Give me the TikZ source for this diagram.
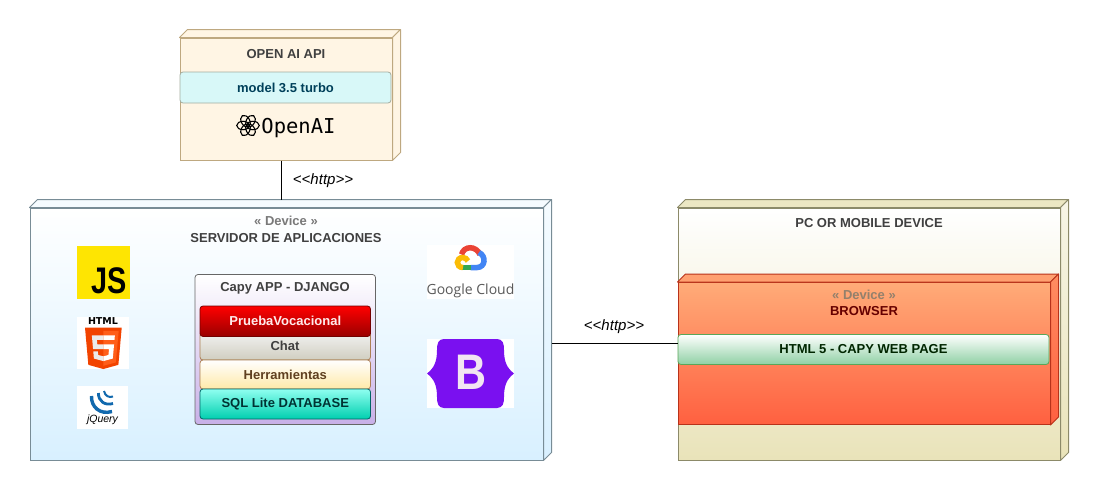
\documentclass[tikz,border=0pt]{standalone}
\usepackage{fontspec}
\setmainfont{Liberation Sans}
\newfontfamily\logomono{DejaVu Sans Mono}
\newfontfamily\logosans{Open Sans}
\newfontfamily\logoheavy{DejaVu Sans}
\usetikzlibrary{calc}
\definecolor{apifill}{RGB}{255, 245, 228}
\definecolor{apiline}{RGB}{190, 168, 128}
\definecolor{modelfill}{RGB}{216, 248, 248}
\definecolor{modeltext}{RGB}{0, 64, 90}
\definecolor{srvline}{RGB}{120, 140, 150}
\definecolor{srvbottom}{RGB}{216, 240, 255}
\definecolor{pcline}{RGB}{140, 138, 105}
\definecolor{pcbottom}{RGB}{233, 227, 185}
\definecolor{brwline}{RGB}{184, 50, 26}
\definecolor{brwtop}{RGB}{255, 171, 120}
\definecolor{brwbottom}{RGB}{255, 96, 64}
\definecolor{txtgray}{RGB}{64, 64, 64}
\definecolor{capybottom}{RGB}{200, 176, 232}
\definecolor{chatbottom}{RGB}{208, 206, 192}
\definecolor{toolsbottom}{RGB}{255, 233, 168}
\definecolor{sqltop}{RGB}{143, 255, 240}
\definecolor{sqlbottom}{RGB}{0, 207, 175}
\definecolor{pagebottom}{RGB}{143, 208, 164}
\definecolor{logopurple}{RGB}{122, 16, 240}
\definecolor{gred}{RGB}{234, 67, 53}
\definecolor{gblue}{RGB}{66, 133, 244}
\definecolor{ggreen}{RGB}{52, 168, 83}
\definecolor{gyellow}{RGB}{251, 188, 5}
\definecolor{jqblue}{RGB}{17, 105, 174}
\tikzset{
  devbox/.style={draw, line width=1pt, inner sep=0pt},
  appbox/.style={draw, line width=.8pt, rounded corners=3pt, inner sep=0pt, minimum width=170.5pt},
  lbl/.style={font=\fontsize{13}{15}\selectfont\bfseries, text=txtgray, inner sep=0pt},
  httplbl/.style={font=\fontsize{15}{17}\selectfont\itshape, inner sep=0pt},
  logobg/.style={fill=white, inner sep=0pt}
}
% side faces of a device box
\newcommand{\boxfaces}[4]{
  \draw[draw=#4, #2, line width=1pt, line join=round] (#1.north west) -- ++(8,-8) -- ($(#1.north east)+(8,-8)$) -- (#1.north east) -- cycle;
  \draw[draw=#4, #3, line width=1pt, line join=round] (#1.north east) -- ++(8,-8) -- ($(#1.south east)+(8,-8)$) -- (#1.south east) -- cycle;
}

\begin{document}
\begin{tikzpicture}[x=1pt, y=-1pt]
  \useasboundingbox (0,0) rectangle (1098,490);

  % open ai box
  \node[devbox, draw=apiline, fill=apifill, minimum width=212pt, minimum height=122pt] (openai) at (286,99) {};
  \boxfaces{openai}{fill=apifill}{fill=apifill}{apiline}
  \node[lbl] (openaititle) at (286,54) {OPEN AI API};
  \node[draw=apiline!40!modelfill!80!black, line width=.8pt, fill=modelfill, rounded corners=3pt, minimum width=211pt, minimum height=31pt, inner sep=0pt,
        font=\fontsize{13}{15}\selectfont\bfseries, text=modeltext] (model) at (285.5,87.5) {model 3.5 turbo};
  \foreach \a in {0,60,...,300}
    \draw[line width=1.1pt, rotate around={\a:(248,125.5)}] (253,125.5) ellipse (6.3pt and 4.2pt);
  \node[inner sep=0pt, font=\fontsize{20.5}{22}\selectfont\logomono] (openailogo) at (298.5,128) {OpenAI};

  % application server
  \node[devbox, draw=srvline, top color=white, bottom color=srvbottom, minimum width=513pt, minimum height=252pt] (server) at (286.5,334) {};
  \boxfaces{server}{fill=srvbottom!25}{top color=srvbottom!25, bottom color=srvbottom}{srvline}
  \node[lbl, text=gray!95!black] (serverstereo) at (286,221) {« Device »};
  \node[lbl] (servertitle) at (286,238) {SERVIDOR DE APLICACIONES};

  % capy app stack
  \node[appbox, draw=gray!80!black, top color=white, bottom color=capybottom, minimum width=180.5pt, minimum height=150pt] (capy) at (285.25,349.5) {};
  \node[lbl] (capytitle) at (285,288.5) {Capy APP - DJANGO};
  \node[appbox, draw=brown!70!gray, top color=white!95!black, bottom color=chatbottom, minimum height=28pt] (chat) at (285.25,346) {};
  \node[lbl] (chattext) at (285,345.5) {Chat};
  \node[appbox, draw=red!45!black, top color=red, bottom color=red!60!black, minimum height=30.5pt, lbl, text=red!8] (prueba) at (285.25,321.25) {PruebaVocacional};
  \node[appbox, draw=brown!70!gray, top color=white, bottom color=toolsbottom, minimum height=29pt, lbl, text=brown!50!black] (tools) at (285.25,374.5) {Herramientas};
  \node[appbox, draw=teal!80!black, top color=sqltop, bottom color=sqlbottom, minimum height=30pt, lbl, text=teal!40!black] (sqlite) at (285.25,404) {SQL Lite DATABASE};

  % logos left
  \node[fill=yellow!88!orange, inner sep=0pt, minimum width=53pt, minimum height=53pt] (jslogo) at (103.5,272.5) {};
  \node[inner sep=0pt, font=\fontsize{37}{38}\selectfont\bfseries] (jstext) at (109.5,281) {\scalebox{.78}[1]{JS}};

  \node[logobg, minimum width=52pt, minimum height=52pt] (htmllogo) at (103,343) {};
  \node[inner sep=0pt, font=\fontsize{9.5}{11}\selectfont\bfseries\logoheavy] (htmltext) at (103,321.5) {HTML};
  \begin{scope}[shift={(82.56,327.7)}, x=.0814pt, y=-.0807pt]
    \fill[orange!55!red!95!black] (30,0) -- (481,0) -- (440,460) -- (255,512) -- (71,460) -- cycle;
    \fill[orange!60!red!90!white] (256,38) -- (444,38) -- (409,430) -- (256,472) -- cycle;
    \fill[white!92!black] (256,208) -- (181,208) -- (176,150) -- (256,150) -- (256,94) -- (114,94) -- (129,265) -- (256,265) -- cycle;
    \fill[white!92!black] (256,355) -- (192,338) -- (188,293) -- (132,293) -- (139,382) -- (256,414) -- cycle;
    \fill[white] (255,208) -- (255,265) -- (325,265) -- (318,338) -- (255,355) -- (255,414) -- (371,382) -- (387,208) -- cycle;
    \fill[white] (255,94) -- (255,150) -- (392,150) -- (397,94) -- cycle;
  \end{scope}

  \node[logobg, minimum width=51pt, minimum height=43pt] (jquerylogo) at (102.5,407.5) {};
  \draw[jqblue, line width=3.4pt] (91.5,396) .. controls (91,407) and (100,415) .. (112,411.5);
  \draw[jqblue, line width=2.8pt] (98.5,393) .. controls (98,401) and (105,406) .. (113,403.5);
  \draw[jqblue, line width=2pt] (104,391) .. controls (105,396) and (109,398) .. (113,396.5);
  \node[inner sep=0pt, font=\fontsize{10.5}{12}\selectfont\itshape] (jquerytext) at (102.5,420) {jQuery};

  % logos right
  \node[logobg, minimum width=87pt, minimum height=54pt] (gcloudlogo) at (470.5,272) {};
  \draw[gred, line width=5.5pt] (461.5,254.5) .. controls (464,245.5) and (476,245.5) .. (480,254.5);
  \draw[gblue, line width=5.5pt] (479,252.5) .. controls (486.5,256) and (485.5,267.5) .. (477,267.5) -- (470.5,267.5);
  \draw[ggreen, line width=5.5pt] (471,267.5) -- (462,267.5);
  \draw[gyellow, line width=5.5pt] (463,267.5) .. controls (455.5,267.5) and (455.5,257.5) .. (463,257.5) .. controls (465,257.5) and (467,259) .. (468,261);
  \node[inner sep=0pt, text=gray!70!black, font=\fontsize{14}{16}\selectfont\logosans] (gcloudtext) at (470.5,290.5) {Google Cloud};

  \node[logobg, minimum width=87pt, minimum height=69pt] (bootstraplogo) at (470.5,373.5) {};
  \fill[logopurple] (444,339) -- (497,339) .. controls (503,339) and (504,344) .. (504,350) .. controls (504,362) and (507,368) .. (514,373.5) .. controls (507,379) and (504,385) .. (504,397) .. controls (504,403) and (503,408) .. (497,408) -- (444,408) .. controls (438,408) and (437,403) .. (437,397) .. controls (437,385) and (434,379) .. (427,373.5) .. controls (434,368) and (437,362) .. (437,350) .. controls (437,344) and (438,339) .. (444,339) -- cycle;
  \node[inner sep=0pt, text=violet!10, font=\fontsize{50}{52}\selectfont\bfseries] (bootstraptext) at (471,372) {\scalebox{.86}[1]{B}};

  % pc or mobile device
  \node[devbox, draw=pcline, top color=white, bottom color=pcbottom, minimum width=382pt, minimum height=252pt] (pc) at (869,334) {};
  \boxfaces{pc}{fill=pcbottom!85}{top color=pcbottom!35, bottom color=pcbottom}{pcline}
  \node[lbl] (pctitle) at (869,223.5) {PC OR MOBILE DEVICE};

  % browser
  \node[devbox, draw=brwline, top color=brwtop, bottom color=brwbottom, minimum width=372pt, minimum height=142pt] (browser) at (864,353.5) {};
  \boxfaces{browser}{fill=brwtop!85!brwbottom}{top color=brwtop!60!brwbottom, bottom color=brwbottom}{brwline}
  \node[lbl, text=gray!70!brown] (browserstereo) at (864,294.5) {« Device »};
  \node[lbl, text=red!40!black] (browsertitle) at (864,311.5) {BROWSER};
  \node[draw=green!30!gray, line width=.8pt, rounded corners=3pt, top color=white, bottom color=pagebottom, minimum width=371pt, minimum height=30pt, inner sep=0pt,
        lbl, text=green!15!black] (webpage) at (863.5,349.5) {HTML 5 - CAPY WEB PAGE};

  % connectors
  \draw[line width=.8pt] ([xshift=-5pt]openai.south) -- ([shift={(-5.5,-8)}]server.north);
  \node[httplbl] (httpup) at (323,181) {{<}{<}http{>}{>}};
  \draw[line width=.8pt] ([shift={(8,9)}]server.east) -- ([yshift=-9pt]pc.west);
  \node[httplbl] (httpright) at (614,326.5) {{<}{<}http{>}{>}};
\end{tikzpicture}
\end{document}
